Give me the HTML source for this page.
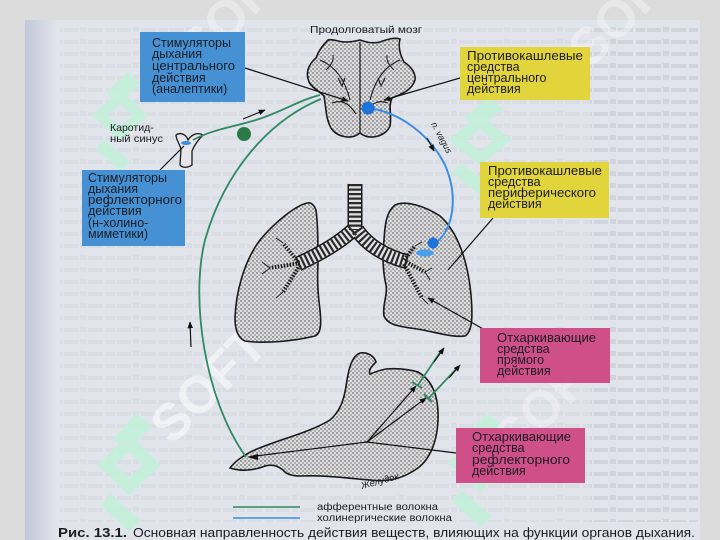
<!DOCTYPE html>
<html><head><meta charset="utf-8"><style>
html,body{margin:0;padding:0;background:#dcdcdc;}
svg{display:block;}
text{font-family:"Liberation Sans",Arial,sans-serif;fill:#1c1c22;}
</style></head><body>
<svg width="720" height="540" viewBox="0 0 720 540" xmlns="http://www.w3.org/2000/svg">
<defs>
 <pattern id="st" width="4" height="4" patternUnits="userSpaceOnUse">
  <rect width="4" height="4" fill="#dedee0"/>
  <circle cx="1" cy="1" r="0.7" fill="#3a3a3a"/>
  <circle cx="3" cy="3" r="0.6" fill="#3a3a3a"/>
 </pattern>
 <pattern id="bl" width="53" height="12" patternUnits="userSpaceOnUse">
  <rect x="0" y="4" width="9" height="4" fill="#c6c9d3"/>
  <rect x="11" y="4" width="14" height="4" fill="#c6c9d3"/>
  <rect x="27" y="3" width="6" height="5" fill="#c6c9d3"/>
  <rect x="35" y="4" width="15" height="4" fill="#c6c9d3"/>
 </pattern>
 <linearGradient id="lg" x1="0" x2="1" y1="0" y2="0">
  <stop offset="0" stop-color="#c3c8d8"/>
  <stop offset="1" stop-color="#e2e4eb"/>
 </linearGradient>
 <marker id="ah" viewBox="0 0 10 10" refX="9" refY="5" markerWidth="7" markerHeight="7" orient="auto" markerUnits="userSpaceOnUse">
  <path d="M0,1 L10,5 L0,9 Z" fill="#111"/>
 </marker>
 <g id="wm" fill="#c2f0d8">
  <polygon points="40,0 55,14 30,40 16,26"/>
  <path d="M32,22 L64,54 L32,86 L0,54 Z M32,40 L46,54 L32,68 L18,54 Z" fill-rule="evenodd"/>
  <polygon points="14,84 28,98 44,112 32,124 18,110 4,96"/>
 </g>
</defs>

<!-- background page -->
<rect x="0" y="0" width="720" height="540" fill="#dcdcdc"/>
<rect x="25" y="20" width="675" height="520" fill="#e2e4eb"/>
<rect x="25" y="20" width="32" height="520" fill="url(#lg)"/>
<rect x="60" y="22" width="640" height="500" fill="url(#bl)" opacity="0.25"/>
<rect x="590" y="22" width="108" height="500" fill="url(#bl)" opacity="0.45"/>

<!-- watermarks -->
<g opacity="0.9">
<use href="#wm" transform="translate(92,72) scale(0.88,0.8)"/>
<use href="#wm" transform="translate(448,98) scale(1,0.78)"/>
<use href="#wm" transform="translate(97,413) scale(1,0.96)"/>
<use href="#wm" transform="translate(448,413) scale(1,0.92)"/>
</g>
<g font-family="Liberation Sans, sans-serif" font-weight="bold">
 <text x="0" y="0" font-size="52" transform="translate(172,446) rotate(-45)" style="fill:#fff" opacity="0.5">SOFT</text>
 <text x="0" y="0" font-size="52" transform="translate(515,460) rotate(-45)" style="fill:#fff" opacity="0.3">SOFT</text>
 <text x="0" y="0" font-size="52" transform="translate(200,70) rotate(-45)" style="fill:#fff" opacity="0.35">SOFT</text>
 <text x="0" y="0" font-size="52" transform="translate(590,70) rotate(-45)" style="fill:#fff" opacity="0.35">SOFT</text>
</g>

<!-- medulla -->
<path d="M328,40 C322,46 318,52 316,58 C309,64 305,72 309,82 C312,88 318,90 324,96 C326,108 326,118 330,126 C334,136 350,141 360,133 C370,141 386,136 390,126 C392,116 388,106 392,98 C402,94 412,90 415,80 C416,72 410,66 404,62 C400,55 398,46 400,39 C393,37 386,40 380,42 C372,44 366,42 360,40 C352,42 345,43 338,41 C334,40 331,39 328,40 Z" fill="url(#st)" stroke="#1a1a1a" stroke-width="1.6"/>
<g fill="none" stroke="#1a1a1a" stroke-width="1.1">
 <path d="M360,42 L360,133"/>
 <path d="M320,60 C335,66 345,80 350,100"/>
 <path d="M400,60 C385,66 375,80 370,100"/>
 <path d="M338,78 L342,86 L345,78"/>
 <path d="M378,78 L381,86 L385,78"/>
 <path d="M332,103 C345,98 352,108 356,114"/>
 <path d="M388,103 C375,98 368,108 364,114"/>
 <path d="M326,70 C330,66 334,62 333,55"/>
 <path d="M394,70 C390,66 386,62 387,55"/>
</g>

<!-- lungs -->
<path d="M307,203 C295,206 275,222 260,240 C245,260 236,290 235,318 C235,330 238,338 245,341 C265,344 295,341 315,336 C322,333 321,320 320,310 C318,295 317,280 318,265 C318,245 318,225 316,210 C314,205 311,202 307,203 Z" fill="url(#st)" stroke="#1a1a1a" stroke-width="1.6"/>
<path d="M395,205 C405,200 425,206 440,216 C458,232 468,262 471,295 C473,318 472,332 465,336 C450,338 430,330 410,328 C398,326 388,325 384,316 C382,305 388,295 386,285 C383,272 382,258 384,240 C385,225 386,212 395,205 Z" fill="url(#st)" stroke="#1a1a1a" stroke-width="1.6"/>
<!-- trachea & bronchi -->
<g fill="none" stroke-linecap="butt">
 <path d="M355,184 L355,230 M353,230 C340,242 320,254 298,264 M357,230 C368,246 385,256 408,262" stroke="#1a1a1a" stroke-width="15"/>
 <path d="M355,184 L355,230 M353,230 C340,242 320,254 298,264 M357,230 C368,246 385,256 408,262" stroke="#e2e2e4" stroke-width="12"/>
 <path d="M355,184 L355,230 M353,230 C340,242 320,254 298,264 M357,230 C368,246 385,256 408,262" stroke="#2a2a2a" stroke-width="12" stroke-dasharray="2.2 2.3"/>
 <g stroke="#1a1a1a" stroke-width="4" stroke-dasharray="1.5 1.5">
  <path d="M300,263 L270,268"/>
  <path d="M298,262 L283,243"/>
  <path d="M300,265 L283,292"/>
  <path d="M406,262 L425,272"/>
  <path d="M404,264 L422,298"/>
  <path d="M404,260 L415,246"/>
 </g>
 <g stroke="#1a1a1a" stroke-width="1">
  <path d="M270,268 L262,262 M270,268 L262,274 M283,243 L276,238 M283,292 L276,298 M425,272 L432,268 M425,272 L430,280 M422,298 L428,304 M415,246 L422,242"/>
 </g>
</g>

<!-- stomach -->
<path d="M360,353 C368,352 374,356 376,362 C372,366 368,370 370,374 C375,372 380,370 386,369 C398,368 408,369 418,372 C432,380 439,395 438,420 C437,445 428,462 415,470 C400,480 385,482 370,480 C345,478 325,475 300,476 C292,476 286,474 283,470 C278,466 272,464 265,466 C255,470 242,472 230,468 C236,460 248,452 262,447 C285,438 310,432 330,420 C342,410 345,395 347,380 C349,368 352,356 360,353 Z" fill="url(#st)" stroke="#1a1a1a" stroke-width="1.6"/>

<!-- carotid sinus -->
<path d="M176,135 C180,132 186,134 188,140 C192,134 198,132 203,135 C198,140 194,146 192,151 L192,165 C188,168 182,168 180,165 L181,149 C179,143 176,139 176,135 Z" fill="#e6e6ea" stroke="#1a1a1a" stroke-width="1.3"/>
<ellipse cx="186" cy="143" rx="5" ry="2" fill="#3a8fe0"/>

<!-- green afferent lines -->
<g fill="none" stroke="#2e8a60" stroke-width="1.8">
 <path d="M321,99 C270,120 225,170 205,240 C190,300 205,400 246,457"/>
 <path d="M193,140 C215,128 240,126 262,118 C285,110 300,100 320,95"/>
 <path d="M418,385 L441,351"/>
 <path d="M428,399 L458,367"/>
 <path d="M412,382 L422,388 M424,394 L432,402"/>
</g>
<circle cx="244" cy="134" r="7" fill="#2a7a48"/>

<!-- blue vagus -->
<path d="M368,108 C400,112 430,135 445,165 C458,195 455,230 433,245" fill="none" stroke="#3b8fe0" stroke-width="2"/>
<circle cx="368" cy="108" r="6.5" fill="#1f72d8"/>
<circle cx="433" cy="243" r="5.5" fill="#1f72d8"/>
<ellipse cx="425" cy="253" rx="9" ry="3.5" fill="#4aa0e8"/>
<text x="0" y="0" font-size="9" font-style="italic" transform="translate(431,124) rotate(62)">n. vagus</text>

<!-- arrows & connectors -->
<g fill="none" stroke="#111" stroke-width="1.2">
 <path d="M245,68 L348,101" marker-end="url(#ah)"/>
 <path d="M460,78 L384,100" marker-end="url(#ah)"/>
 <path d="M493,218 L448,270"/>
 <path d="M485,330 L428,298" marker-end="url(#ah)"/>
 <path d="M160,170 L184,146"/>
 <path d="M243,119 L265,110" marker-end="url(#ah)"/>
 <path d="M191,347 L190,322" marker-end="url(#ah)"/>
 <path d="M427,138 L434,151" marker-end="url(#ah)"/>
 <path d="M256,456 L367,442 L456,453"/>
 <path d="M367,442 L416,386" marker-end="url(#ah)"/>
 <path d="M367,442 L426,398" marker-end="url(#ah)"/>
 <path d="M434,362 L444,348" marker-end="url(#ah)"/>
 <path d="M449,378 L460,365" marker-end="url(#ah)"/>
</g>
<polygon points="247,457 258,454 258,460" fill="#111"/>

<!-- labels -->
<text x="310" y="33" font-size="10.5" textLength="112" lengthAdjust="spacingAndGlyphs">Продолговатый мозг</text>
<text x="110" y="131" font-size="10.5">Каротид-</text>
<text x="110" y="142" font-size="10.5" textLength="53" lengthAdjust="spacingAndGlyphs">ный синус</text>
<text x="0" y="0" font-size="9.5" font-style="italic" transform="translate(362,489) rotate(-15)">Желудок</text>

<!-- blue boxes -->
<rect x="140" y="32" width="105" height="70" fill="#4691d4"/>
<g font-size="12.5">
 <text x="152" y="47">Стимуляторы</text>
 <text x="152" y="58">дыхания</text>
 <text x="152" y="70" textLength="83" lengthAdjust="spacingAndGlyphs">центрального</text>
 <text x="152" y="82">действия</text>
 <text x="152" y="93">(аналептики)</text>
</g>
<rect x="82" y="170" width="103" height="76" fill="#4691d4"/>
<g font-size="12.5">
 <text x="88" y="182">Стимуляторы</text>
 <text x="88" y="193">дыхания</text>
 <text x="88" y="204" textLength="94" lengthAdjust="spacingAndGlyphs">рефлекторного</text>
 <text x="88" y="215">действия</text>
 <text x="88" y="227">(н-холино-</text>
 <text x="88" y="238">миметики)</text>
</g>

<!-- yellow boxes -->
<rect x="460" y="47" width="130" height="53" fill="#e2d53c"/>
<g font-size="12.5">
 <text x="467" y="60" textLength="116" lengthAdjust="spacingAndGlyphs">Противокашлевые</text>
 <text x="467" y="71">средства</text>
 <text x="467" y="82">центрального</text>
 <text x="467" y="93">действия</text>
</g>
<rect x="480" y="162" width="129" height="56" fill="#e2d53c"/>
<g font-size="12.5">
 <text x="488" y="175" textLength="114" lengthAdjust="spacingAndGlyphs">Противокашлевые</text>
 <text x="488" y="186">средства</text>
 <text x="488" y="197" textLength="108" lengthAdjust="spacingAndGlyphs">периферического</text>
 <text x="488" y="208">действия</text>
</g>

<!-- pink boxes -->
<rect x="480" y="328" width="130" height="55" fill="#cf4f88"/>
<g font-size="12.5">
 <text x="497" y="342" textLength="99" lengthAdjust="spacingAndGlyphs">Отхаркивающие</text>
 <text x="497" y="353">средства</text>
 <text x="497" y="364">прямого</text>
 <text x="497" y="375">действия</text>
</g>
<rect x="456" y="428" width="129" height="55" fill="#cf4f88"/>
<g font-size="12.5">
 <text x="472" y="441" textLength="99" lengthAdjust="spacingAndGlyphs">Отхаркивающие</text>
 <text x="472" y="452">средства</text>
 <text x="472" y="464" textLength="98" lengthAdjust="spacingAndGlyphs">рефлекторного</text>
 <text x="472" y="475">действия</text>
</g>

<!-- legend -->
<line x1="233" y1="507" x2="300" y2="507" stroke="#2e8a60" stroke-width="1.6"/>
<line x1="233" y1="518" x2="300" y2="518" stroke="#3b8fe0" stroke-width="1.6"/>
<text x="317" y="510" font-size="10" textLength="121" lengthAdjust="spacingAndGlyphs">афферентные волокна</text>
<text x="317" y="521" font-size="10" textLength="135" lengthAdjust="spacingAndGlyphs">холинергические волокна</text>

<!-- caption -->
<text x="58" y="537" font-size="12.5" font-weight="bold" textLength="69" lengthAdjust="spacingAndGlyphs">Рис. 13.1.</text>
<text x="133" y="537" font-size="12.5" textLength="562" lengthAdjust="spacingAndGlyphs">Основная направленность действия веществ, влияющих на функции органов дыхания.</text>
</svg>
</body></html>
